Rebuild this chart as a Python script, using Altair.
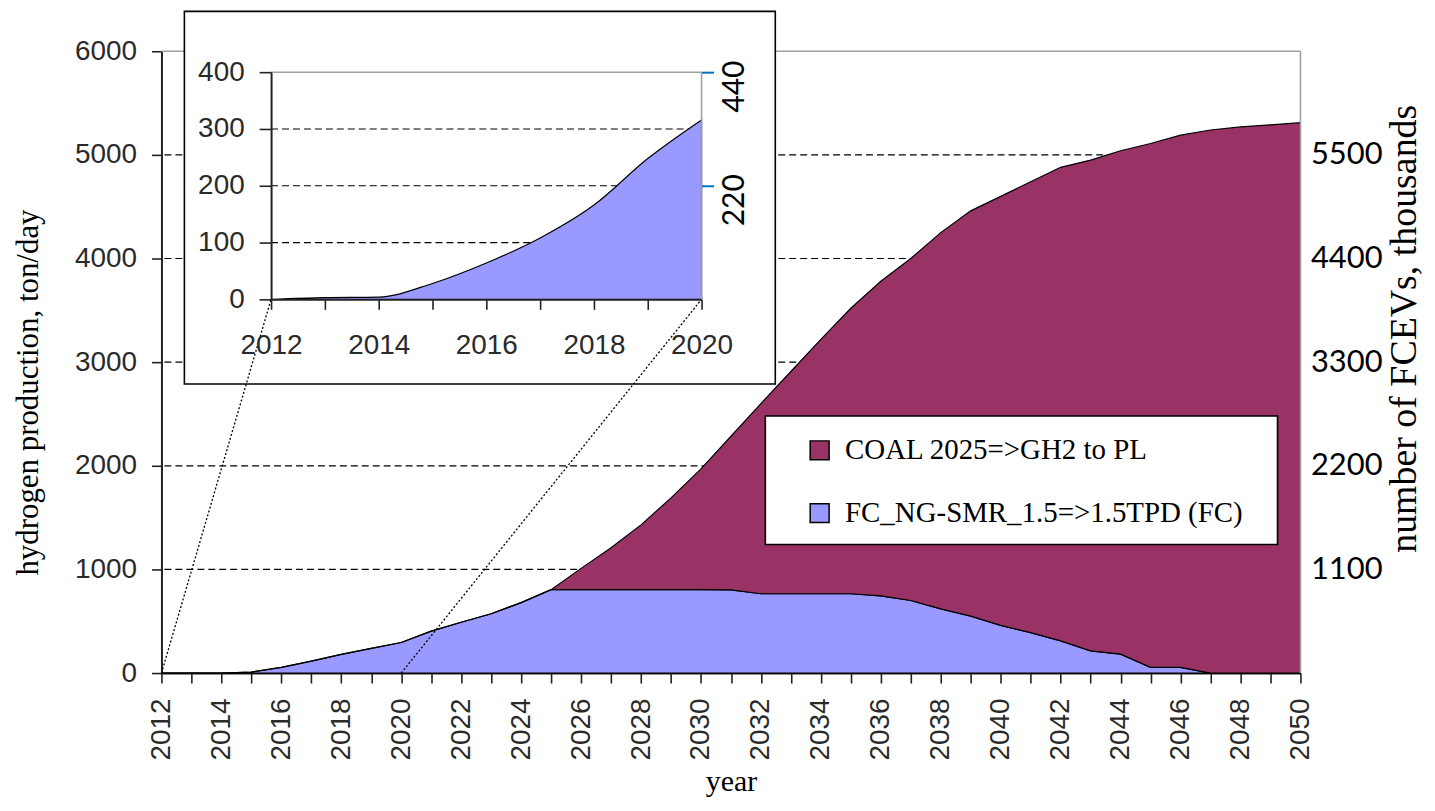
import altair as alt
import pandas as pd

# ---------------- data ----------------
years = list(range(2012, 2051))
fc_values = [0, 0, 0, 10, 55, 115, 180, 238, 295, 405,
             490, 572, 680, 805, 805, 805, 805, 805, 805, 803,
             765, 765, 765, 765, 745, 700, 620, 550, 460, 390,
             310, 214, 183, 55, 55, 0, 0, 0, 0]
coal_values = [0] * 14 + [205, 405, 625, 885, 1165, 1482, 1835, 2145, 2455, 2755,
                          3035, 3300, 3630, 3910, 4140, 4350, 4570, 4736, 4857, 5055,
                          5135, 5240, 5270, 5290, 5310]
series_names = ["COAL 2025=>GH2 to PL", "FC_NG-SMR_1.5=>1.5TPD (FC)"]
series_colors = ["#993366", "#9999FF"]

inset_years = [2012, 2013, 2014, 2015, 2016, 2017, 2018, 2019, 2020]
inset_fc = [0, 3, 4, 28, 64, 108, 166, 248, 316]

main_y_ticks = [0, 1000, 2000, 3000, 4000, 5000, 6000]
main_grid = [1000, 2000, 3000, 4000, 5000]
right_ticks = [1100, 2200, 3300, 4400, 5500]
inset_y_ticks = [0, 100, 200, 300, 400]
inset_grid = [100, 200, 300]
inset_right_ticks = [220, 440]

# ---------------- layout ----------------
W, H = 1143, 624
IX = [110, 542]      # inset x range (px in plot area)
IY = [249, 21]       # inset y range
BOX = dict(x=23, x2=616, y=-40, y2=334)
LBOX = dict(x=606, x2=1120, y=366, y2=495)

main_x = alt.Scale(domain=[2012, 2050], nice=False, zero=False)
main_y = alt.Scale(domain=[0, 6000], nice=False)
right_y = alt.Scale(domain=[0, 6600], nice=False)
inset_x = alt.Scale(domain=[2012, 2020], range=IX, nice=False, zero=False)
inset_y = alt.Scale(domain=[0, 400], range=IY, nice=False)
inset_y2 = alt.Scale(domain=[0, 440], range=IY, nice=False)

LABEL = dict(labelFont="Liberation Sans", labelFontSize=28, labelColor="#2a2a2a")
TITLE = dict(titleFont="Liberation Serif", titleFontWeight="normal", titleColor="black")

rows = []
for i, y in enumerate(years):
    rows.append({"year": y, "series": series_names[1], "value": fc_values[i], "ord": 0})
    rows.append({"year": y, "series": series_names[0], "value": coal_values[i], "ord": 1})
df = pd.DataFrame(rows)

# main grid
grid = alt.Chart(pd.DataFrame({"v": main_grid})).mark_rule(
    color="black", strokeDash=[7, 4], strokeWidth=1.2
).encode(y=alt.Y("v:Q", scale=main_y, axis=None))

# main stacked area
area = alt.Chart(df).mark_area(stroke="black", strokeWidth=1.2, opacity=1).encode(
    x=alt.X("year:Q", scale=main_x, axis=alt.Axis(
        orient="bottom", values=years, format="d",
        labelExpr="datum.value % 2 == 0 ? datum.label : ''",
        labelAngle=270, labelAlign="right", labelBaseline="middle",
        labelPadding=15, labelFlush=False, labelOverlap=False,
        tickSize=10, tickColor="#222", tickWidth=1.6,
        domainColor="#222", domainWidth=2, grid=False,
        title="year", titleFontSize=30, titlePadding=7, **LABEL, **TITLE)),
    y=alt.Y("value:Q", stack="zero", scale=main_y, axis=alt.Axis(
        orient="left", values=main_y_ticks, format="d",
        tickSize=10, tickColor="#222", tickWidth=1.6, labelPadding=15,
        domainColor="#222", domainWidth=2, grid=False,
        title="hydrogen production, ton/day", titleFontSize=31,
        titleAngle=270, titleX=-133, titleY=342, titleAlign="center",
        titleBaseline="middle", **LABEL, **TITLE)),
    color=alt.Color("series:N", scale=alt.Scale(domain=series_names, range=series_colors),
                    legend=alt.Legend(orient="none", legendX=646, legendY=386, title=None,
                                      direction="vertical", symbolType="square",
                                      symbolSize=361, symbolStrokeColor="black",
                                      symbolStrokeWidth=1.5, symbolOpacity=1,
                                      labelFont="Liberation Serif", labelFontSize=29,
                                      labelColor="black", labelOffset=11, rowPadding=33,
                                      padding=0, labelLimit=0)),
    order=alt.Order("ord:Q"),
)

# main borders (top and right, gray)
main_border = alt.Chart(pd.DataFrame({
    "x": [2012, 2050], "x2": [2050, 2050], "y": [6000, 0], "y2": [6000, 6000]
})).mark_rule(color="#a0a0a0", strokeWidth=1.6).encode(
    x=alt.X("x:Q", scale=main_x, axis=None), x2="x2:Q",
    y=alt.Y("y:Q", scale=main_y, axis=None), y2="y2:Q")

# legend box
legend_box = alt.Chart(pd.DataFrame({"a": [0]})).mark_rect(
    fill="white", stroke="black", strokeWidth=1.6
).encode(x=alt.value(LBOX["x"]), x2=alt.value(LBOX["x2"]),
         y=alt.value(LBOX["y"]), y2=alt.value(LBOX["y2"]))

# inset box
inset_box = alt.Chart(pd.DataFrame({"a": [0]})).mark_rect(
    fill="white", stroke="black", strokeWidth=1.6
).encode(x=alt.value(BOX["x"]), x2=alt.value(BOX["x2"]),
         y=alt.value(BOX["y"]), y2=alt.value(BOX["y2"]))

# connectors (dotted)
def connector(year_main, px_x, px_y):
    return alt.Chart(pd.DataFrame({"year": [year_main], "v": [0]})).mark_rule(
        color="black", strokeDash=[2, 2], strokeWidth=1.3
    ).encode(x=alt.X("year:Q", scale=main_x, axis=None),
             y=alt.Y("v:Q", scale=main_y, axis=None),
             x2=alt.value(px_x), y2=alt.value(px_y))

conn1 = connector(inset_years[0], IX[0], IY[0])
conn2 = connector(inset_years[-1], IX[1], IY[0])

# inset grid
inset_gridl = alt.Chart(pd.DataFrame({
    "v": inset_grid, "x": [inset_years[0]] * 3, "x2": [inset_years[-1]] * 3
})).mark_rule(color="black", strokeDash=[7, 4], strokeWidth=1.2).encode(
    x=alt.X("x:Q", scale=inset_x, axis=None), x2="x2:Q",
    y=alt.Y("v:Q", scale=inset_y, axis=None))

# inset area
inset_df = pd.DataFrame({"year": inset_years, "value": inset_fc})
inset_area = alt.Chart(inset_df).mark_area(
    color=series_colors[1], stroke="black", strokeWidth=1.2, opacity=1,
    interpolate="monotone"
).encode(
    x=alt.X("year:Q", scale=inset_x, axis=alt.Axis(
        orient="bottom", offset=-(H - IY[0]), values=inset_years, format="d",
        labelExpr="datum.value % 2 == 0 ? datum.label : ''",
        labelPadding=22, labelFlush=False, labelOverlap=False,
        tickSize=10, tickColor="#222", tickWidth=1.6,
        domainColor="#222", domainWidth=2, grid=False, zindex=1, title=None, **LABEL)),
    y=alt.Y("value:Q", scale=inset_y, axis=alt.Axis(
        orient="left", offset=-IX[0], values=inset_y_ticks, format="d",
        tickSize=12, tickColor="#222", tickWidth=1.6, labelPadding=15,
        domainColor="#222", domainWidth=2, grid=False, zindex=1, title=None, **LABEL)),
)

# inset borders
inset_border = alt.Chart(pd.DataFrame({
    "x": [2012, 2020], "x2": [2020, 2020], "y": [400, 0], "y2": [400, 400]
})).mark_rule(color="#a0a0a0", strokeWidth=1.6).encode(
    x=alt.X("x:Q", scale=inset_x, axis=None), x2="x2:Q",
    y=alt.Y("y:Q", scale=inset_y, axis=None), y2="y2:Q")

# inset right axis
inset_right = alt.Chart(pd.DataFrame({"v": inset_right_ticks})).mark_point(opacity=0).encode(
    y=alt.Y("v:Q", scale=inset_y2, axis=alt.Axis(
        orient="right", offset=-(W - IX[1]), values=inset_right_ticks, format="d",
        domain=False, tickColor="#0070C0", tickWidth=2, tickSize=12,
        labelAngle=270, labelAlign="center", labelBaseline="top",
        labelFont="Lato", labelFontSize=30, labelColor="black",
        labelPadding=6, labelOffset=14, zindex=1, title=None)))

# main right axis
right_axis = alt.Chart(pd.DataFrame({"v": right_ticks})).mark_point(opacity=0).encode(
    y=alt.Y("v:Q", scale=right_y, axis=alt.Axis(
        orient="right", values=right_ticks, format="d", domain=False, ticks=False,
        labelFont="Lato", labelFontSize=31, labelColor="black", labelPadding=10,
        title="number of FCEVs, thousands", titleFontSize=38, titleAngle=270,
        titleX=104, titleY=278, titleAlign="center", titleBaseline="middle", **TITLE)))

chart = alt.layer(
    grid, area, main_border, legend_box, inset_box, conn1, conn2,
    inset_gridl, inset_area, inset_border, inset_right, right_axis
).resolve_scale(
    x="independent", y="independent"
).properties(
    width=W, height=H,
    autosize=alt.AutoSizeParams(type="none"),
    padding={"left": 154, "top": 42, "right": 127, "bottom": 129},
    background="white",
).configure_view(stroke=None)

chart.save("out.html", embed_options={"renderer": "svg", "actions": False})
